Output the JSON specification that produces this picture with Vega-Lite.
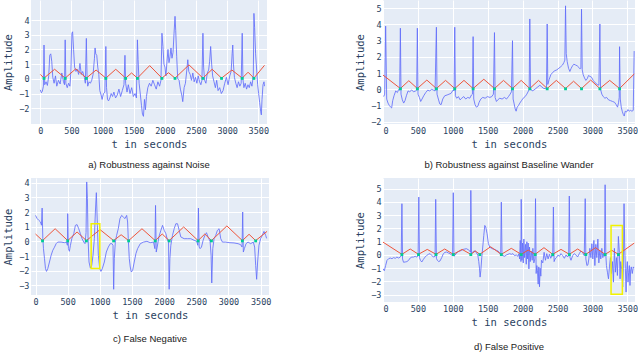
{
"$schema": "https://vega.github.io/schema/vega-lite/v6.json",
"background": "white",
"padding": {"left": 3, "top": 0, "right": 0, "bottom": 0},
"columns": 2,
"spacing": {"row": 8, "column": 84},
"config": {
  "view": {"fill": "#e5ecf6", "stroke": null},
  "axis": {"grid": true, "gridColor": "white", "gridWidth": 1, "domain": false, "ticks": false, "labelFont": "DejaVu Sans Mono", "labelFontSize": 8.5, "labelColor": "#2a3f5f", "titleFont": "DejaVu Sans Mono", "titleFontSize": 10.5, "titleFontWeight": "normal", "titleColor": "#2a3f5f"},
  "axisX": {"labelPadding": 2, "titlePadding": 5, "format": "d"},
  "axisY": {"labelPadding": 2, "titlePadding": 5, "format": "d"},
  "title": {"orient": "bottom", "frame": "group", "font": "Liberation Sans", "fontSize": 9.5, "fontWeight": "normal", "color": "#222222", "offset": 10}
},
"datasets": {
"a": [{"t":0,"v":-0.75},{"t":16,"v":-0.95},{"t":32,"v":-0.85},{"t":49,"v":-0.5},{"t":59,"v":2.3},{"t":70,"v":-0.4},{"t":92,"v":-0.2},{"t":113,"v":-0.45},{"t":135,"v":0.2},{"t":151,"v":1.6},{"t":167,"v":1.7},{"t":183,"v":1.2},{"t":200,"v":0.1},{"t":221,"v":-0.3},{"t":243,"v":0.2},{"t":264,"v":-0.5},{"t":291,"v":-0.1},{"t":318,"v":-0.35},{"t":345,"v":0.4},{"t":372,"v":-0.2},{"t":388,"v":-0.4},{"t":399,"v":2.65},{"t":410,"v":-0.3},{"t":432,"v":-0.6},{"t":453,"v":-0.3},{"t":475,"v":-0.5},{"t":491,"v":0.5},{"t":507,"v":3.1},{"t":518,"v":3.2},{"t":534,"v":2.0},{"t":550,"v":0.8},{"t":572,"v":0.5},{"t":593,"v":0.65},{"t":615,"v":0.3},{"t":636,"v":1.05},{"t":658,"v":0.3},{"t":680,"v":0.5},{"t":707,"v":0.1},{"t":723,"v":-0.3},{"t":739,"v":2.75},{"t":750,"v":0.2},{"t":761,"v":-0.5},{"t":782,"v":-0.2},{"t":804,"v":-0.3},{"t":825,"v":-0.1},{"t":847,"v":0.3},{"t":869,"v":1.4},{"t":879,"v":2.1},{"t":890,"v":1.7},{"t":906,"v":1.6},{"t":922,"v":0.8},{"t":939,"v":0.3},{"t":955,"v":-0.8},{"t":976,"v":-1.1},{"t":992,"v":-1.4},{"t":1014,"v":-1.0},{"t":1036,"v":-0.9},{"t":1052,"v":2.2},{"t":1063,"v":-0.6},{"t":1079,"v":-1.4},{"t":1095,"v":-1.5},{"t":1117,"v":-1.3},{"t":1138,"v":-1.0},{"t":1160,"v":-1.2},{"t":1181,"v":-0.9},{"t":1208,"v":-1.3},{"t":1235,"v":-1.1},{"t":1262,"v":-0.7},{"t":1289,"v":-1.2},{"t":1316,"v":-0.8},{"t":1343,"v":-0.4},{"t":1359,"v":1.6},{"t":1370,"v":-0.3},{"t":1392,"v":-0.9},{"t":1413,"v":-0.4},{"t":1440,"v":-1.0},{"t":1467,"v":-0.6},{"t":1494,"v":-1.2},{"t":1521,"v":-1.0},{"t":1543,"v":-1.3},{"t":1559,"v":2.65},{"t":1570,"v":1.3},{"t":1586,"v":-0.3},{"t":1607,"v":-1.1},{"t":1624,"v":-1.8},{"t":1640,"v":-2.4},{"t":1656,"v":-2.55},{"t":1672,"v":-1.4},{"t":1688,"v":-2.1},{"t":1704,"v":-1.2},{"t":1726,"v":-0.6},{"t":1753,"v":-0.3},{"t":1780,"v":-0.5},{"t":1807,"v":-0.1},{"t":1834,"v":-0.4},{"t":1861,"v":-0.7},{"t":1888,"v":-0.2},{"t":1915,"v":-0.5},{"t":1937,"v":-0.1},{"t":1953,"v":3.1},{"t":1969,"v":2.2},{"t":1985,"v":1.0},{"t":2001,"v":0.8},{"t":2017,"v":0.2},{"t":2034,"v":1.2},{"t":2050,"v":2.0},{"t":2066,"v":1.1},{"t":2082,"v":1.5},{"t":2098,"v":2.1},{"t":2114,"v":1.4},{"t":2131,"v":1.8},{"t":2147,"v":3.1},{"t":2163,"v":4.25},{"t":2174,"v":3.3},{"t":2190,"v":1.5},{"t":2206,"v":0.0},{"t":2228,"v":-0.1},{"t":2249,"v":-0.7},{"t":2271,"v":-1.1},{"t":2287,"v":-1.55},{"t":2309,"v":-0.6},{"t":2330,"v":-0.3},{"t":2352,"v":0.6},{"t":2368,"v":1.3},{"t":2384,"v":0.5},{"t":2406,"v":0.3},{"t":2427,"v":-0.1},{"t":2449,"v":0.4},{"t":2470,"v":-0.2},{"t":2492,"v":0.1},{"t":2514,"v":-0.3},{"t":2535,"v":0.2},{"t":2557,"v":-0.2},{"t":2578,"v":-0.4},{"t":2595,"v":-0.1},{"t":2611,"v":3.1},{"t":2622,"v":0.8},{"t":2638,"v":-0.1},{"t":2659,"v":-0.3},{"t":2681,"v":0.4},{"t":2703,"v":0.6},{"t":2719,"v":1.2},{"t":2735,"v":2.2},{"t":2751,"v":1.0},{"t":2767,"v":0.2},{"t":2789,"v":-0.2},{"t":2811,"v":-0.6},{"t":2832,"v":-0.1},{"t":2854,"v":-0.8},{"t":2880,"v":-0.6},{"t":2907,"v":-1.0},{"t":2934,"v":-0.8},{"t":2961,"v":-0.3},{"t":2988,"v":0.1},{"t":3015,"v":-0.4},{"t":3042,"v":0.2},{"t":3064,"v":0.5},{"t":3080,"v":1.7},{"t":3090,"v":2.3},{"t":3101,"v":1.0},{"t":3117,"v":0.1},{"t":3139,"v":-0.3},{"t":3160,"v":-0.6},{"t":3182,"v":-0.2},{"t":3204,"v":-0.5},{"t":3225,"v":-0.3},{"t":3242,"v":3.1},{"t":3253,"v":0.0},{"t":3269,"v":-0.6},{"t":3290,"v":-0.3},{"t":3312,"v":-0.7},{"t":3334,"v":-0.4},{"t":3355,"v":-0.6},{"t":3377,"v":-0.2},{"t":3398,"v":-0.5},{"t":3420,"v":0.2},{"t":3430,"v":4.45},{"t":3441,"v":3.5},{"t":3457,"v":1.7},{"t":3474,"v":0.6},{"t":3490,"v":-0.4},{"t":3506,"v":-1.0},{"t":3522,"v":-1.6},{"t":3538,"v":-2.2},{"t":3549,"v":-2.45},{"t":3560,"v":-1.4},{"t":3576,"v":-0.4},{"t":3592,"v":-0.2},{"t":3600,"v":-0.5}],
"at": [{"t":0,"v":0.3},{"t":59,"v":0.05},{"t":229,"v":0.65},{"t":399,"v":0.05},{"t":569,"v":0.68},{"t":739,"v":0.05},{"t":895,"v":0.6},{"t":1052,"v":0.05},{"t":1211,"v":0.65},{"t":1370,"v":0.05},{"t":1465,"v":0.4},{"t":1559,"v":0.05},{"t":1756,"v":0.9},{"t":1953,"v":0.05},{"t":2058,"v":0.42},{"t":2163,"v":0.05},{"t":2387,"v":0.95},{"t":2611,"v":0.05},{"t":2760,"v":0.65},{"t":2910,"v":0.05},{"t":3076,"v":0.6},{"t":3242,"v":0.05},{"t":3336,"v":0.45},{"t":3430,"v":0.05},{"t":3600,"v":0.92}],
"ag": [{"t":59,"v":0.03},{"t":399,"v":0.03},{"t":739,"v":0.03},{"t":1052,"v":0.03},{"t":1370,"v":0.03},{"t":1559,"v":0.03},{"t":1953,"v":0.03},{"t":2163,"v":0.03},{"t":2611,"v":0.03},{"t":2910,"v":0.03},{"t":3242,"v":0.03},{"t":3430,"v":0.03}],
"b": [{"t":10,"v":-0.45},{"t":24,"v":-0.3},{"t":38,"v":3.9},{"t":53,"v":-0.6},{"t":72,"v":-0.85},{"t":91,"v":-1.0},{"t":110,"v":-1.1},{"t":124,"v":-1.15},{"t":139,"v":-0.7},{"t":158,"v":-0.4},{"t":182,"v":-0.1},{"t":206,"v":-0.2},{"t":225,"v":0.0},{"t":239,"v":-0.05},{"t":249,"v":3.77},{"t":258,"v":-0.3},{"t":277,"v":-0.65},{"t":296,"v":-0.85},{"t":315,"v":-0.7},{"t":335,"v":-0.4},{"t":359,"v":-0.1},{"t":382,"v":-0.15},{"t":411,"v":-0.05},{"t":440,"v":-0.15},{"t":468,"v":-0.1},{"t":483,"v":-0.05},{"t":492,"v":3.77},{"t":502,"v":-0.3},{"t":521,"v":-0.5},{"t":540,"v":-0.75},{"t":559,"v":-0.6},{"t":583,"v":-0.4},{"t":612,"v":-0.2},{"t":641,"v":-0.05},{"t":669,"v":-0.1},{"t":698,"v":0.0},{"t":722,"v":-0.05},{"t":746,"v":-0.1},{"t":765,"v":3.83},{"t":774,"v":-0.3},{"t":793,"v":-0.6},{"t":813,"v":-0.9},{"t":832,"v":-0.95},{"t":856,"v":-0.6},{"t":884,"v":-0.4},{"t":918,"v":-0.35},{"t":946,"v":-0.3},{"t":975,"v":-0.25},{"t":1004,"v":-0.05},{"t":1018,"v":-0.1},{"t":1028,"v":3.83},{"t":1037,"v":-0.4},{"t":1056,"v":-0.55},{"t":1080,"v":-0.45},{"t":1104,"v":-0.65},{"t":1128,"v":-0.55},{"t":1157,"v":-0.45},{"t":1185,"v":-0.6},{"t":1214,"v":-0.5},{"t":1243,"v":-0.55},{"t":1267,"v":-0.35},{"t":1281,"v":-0.3},{"t":1291,"v":3.25},{"t":1300,"v":-0.6},{"t":1319,"v":-0.95},{"t":1338,"v":-1.1},{"t":1358,"v":-1.05},{"t":1377,"v":-0.8},{"t":1401,"v":-0.6},{"t":1429,"v":-0.5},{"t":1463,"v":-0.55},{"t":1496,"v":-0.45},{"t":1530,"v":-0.5},{"t":1558,"v":-0.45},{"t":1582,"v":-0.3},{"t":1597,"v":3.5},{"t":1606,"v":-0.5},{"t":1625,"v":-0.75},{"t":1644,"v":-0.65},{"t":1673,"v":-0.55},{"t":1706,"v":-0.6},{"t":1740,"v":-0.5},{"t":1769,"v":-0.6},{"t":1797,"v":-0.45},{"t":1821,"v":-0.3},{"t":1840,"v":-0.15},{"t":1855,"v":3.0},{"t":1864,"v":-0.6},{"t":1879,"v":-0.9},{"t":1893,"v":-1.2},{"t":1907,"v":-1.35},{"t":1922,"v":-1.1},{"t":1941,"v":-1.0},{"t":1960,"v":-0.85},{"t":1984,"v":-0.7},{"t":2008,"v":-0.55},{"t":2036,"v":-0.45},{"t":2060,"v":-0.3},{"t":2084,"v":-0.1},{"t":2094,"v":0.0},{"t":2103,"v":4.34},{"t":2113,"v":0.05},{"t":2137,"v":-0.1},{"t":2161,"v":-0.05},{"t":2189,"v":0.05},{"t":2218,"v":0.15},{"t":2247,"v":0.25},{"t":2275,"v":0.15},{"t":2304,"v":0.05},{"t":2328,"v":0.05},{"t":2342,"v":0.0},{"t":2352,"v":4.03},{"t":2361,"v":0.3},{"t":2380,"v":0.6},{"t":2404,"v":0.9},{"t":2433,"v":1.05},{"t":2462,"v":1.15},{"t":2490,"v":1.2},{"t":2519,"v":1.3},{"t":2548,"v":1.4},{"t":2572,"v":1.5},{"t":2591,"v":1.65},{"t":2605,"v":1.8},{"t":2615,"v":5.15},{"t":2625,"v":2.2},{"t":2639,"v":1.7},{"t":2658,"v":1.3},{"t":2677,"v":1.1},{"t":2696,"v":1.3},{"t":2715,"v":1.45},{"t":2734,"v":1.55},{"t":2758,"v":1.5},{"t":2782,"v":1.45},{"t":2806,"v":1.35},{"t":2825,"v":1.25},{"t":2835,"v":1.3},{"t":2844,"v":4.94},{"t":2854,"v":1.2},{"t":2868,"v":0.9},{"t":2887,"v":0.7},{"t":2906,"v":0.55},{"t":2925,"v":0.65},{"t":2944,"v":0.85},{"t":2964,"v":0.8},{"t":2987,"v":0.75},{"t":3011,"v":0.55},{"t":3040,"v":0.4},{"t":3069,"v":0.3},{"t":3093,"v":0.25},{"t":3107,"v":4.03},{"t":3116,"v":0.0},{"t":3135,"v":-0.3},{"t":3155,"v":-0.45},{"t":3179,"v":-0.55},{"t":3203,"v":-0.5},{"t":3231,"v":-0.65},{"t":3260,"v":-0.7},{"t":3289,"v":-0.75},{"t":3317,"v":-0.8},{"t":3341,"v":-0.95},{"t":3360,"v":-1.1},{"t":3375,"v":-0.8},{"t":3384,"v":-0.5},{"t":3389,"v":2.63},{"t":3399,"v":-0.6},{"t":3413,"v":-1.1},{"t":3427,"v":-1.35},{"t":3442,"v":-1.55},{"t":3456,"v":-1.65},{"t":3470,"v":-1.35},{"t":3489,"v":-1.4},{"t":3509,"v":-1.25},{"t":3528,"v":-1.35},{"t":3547,"v":-1.3},{"t":3566,"v":-1.35},{"t":3585,"v":-1.3},{"t":3598,"v":2.36}],
"bt": [{"t":0,"v":0.88},{"t":249,"v":0.05},{"t":370,"v":0.53},{"t":492,"v":0.05},{"t":628,"v":0.57},{"t":765,"v":0.05},{"t":896,"v":0.55},{"t":1028,"v":0.05},{"t":1160,"v":0.55},{"t":1291,"v":0.05},{"t":1444,"v":0.62},{"t":1597,"v":0.05},{"t":1726,"v":0.55},{"t":1855,"v":0.05},{"t":1979,"v":0.55},{"t":2103,"v":0.05},{"t":2228,"v":0.55},{"t":2352,"v":0.05},{"t":2483,"v":0.55},{"t":2615,"v":0.05},{"t":2730,"v":0.5},{"t":2844,"v":0.05},{"t":2975,"v":0.57},{"t":3107,"v":0.05},{"t":3248,"v":0.55},{"t":3389,"v":0.05},{"t":3600,"v":0.95}],
"bg": [{"t":249,"v":0.03},{"t":492,"v":0.03},{"t":765,"v":0.03},{"t":1028,"v":0.03},{"t":1291,"v":0.03},{"t":1597,"v":0.03},{"t":1855,"v":0.03},{"t":2103,"v":0.03},{"t":2352,"v":0.03},{"t":2615,"v":0.03},{"t":2844,"v":0.03},{"t":3107,"v":0.03},{"t":3389,"v":0.03}],
"c": [{"t":0,"v":1.77},{"t":26,"v":1.55},{"t":52,"v":1.43},{"t":78,"v":1.32},{"t":93,"v":1.1},{"t":103,"v":2.27},{"t":114,"v":0.18},{"t":124,"v":-0.5},{"t":140,"v":-1.18},{"t":155,"v":-1.86},{"t":171,"v":-2.05},{"t":191,"v":-1.86},{"t":217,"v":-1.41},{"t":243,"v":-0.95},{"t":269,"v":-0.61},{"t":295,"v":-0.4},{"t":321,"v":-0.16},{"t":346,"v":-0.05},{"t":398,"v":-0.05},{"t":450,"v":-0.09},{"t":481,"v":-0.05},{"t":496,"v":-0.27},{"t":501,"v":1.89},{"t":512,"v":-0.5},{"t":527,"v":-0.68},{"t":543,"v":-0.27},{"t":564,"v":0.18},{"t":595,"v":0.52},{"t":620,"v":1.09},{"t":646,"v":1.14},{"t":672,"v":0.86},{"t":698,"v":0.52},{"t":724,"v":0.18},{"t":750,"v":-0.05},{"t":770,"v":-0.16},{"t":786,"v":0.6},{"t":796,"v":4.05},{"t":807,"v":2.91},{"t":817,"v":0.18},{"t":832,"v":-1.41},{"t":853,"v":-1.82},{"t":874,"v":-1.64},{"t":894,"v":-0.95},{"t":915,"v":0.18},{"t":931,"v":2.0},{"t":946,"v":3.32},{"t":962,"v":1.09},{"t":977,"v":-0.95},{"t":998,"v":-1.86},{"t":1018,"v":-2.05},{"t":1039,"v":-1.86},{"t":1070,"v":-1.41},{"t":1101,"v":-0.73},{"t":1132,"v":-0.39},{"t":1163,"v":-0.16},{"t":1189,"v":-0.16},{"t":1205,"v":-0.27},{"t":1215,"v":-3.27},{"t":1225,"v":-1.18},{"t":1241,"v":-0.05},{"t":1261,"v":0.41},{"t":1287,"v":0.86},{"t":1313,"v":1.55},{"t":1339,"v":1.77},{"t":1365,"v":1.66},{"t":1391,"v":1.55},{"t":1417,"v":1.77},{"t":1432,"v":1.32},{"t":1442,"v":0.18},{"t":1458,"v":-1.18},{"t":1473,"v":-1.75},{"t":1489,"v":-2.09},{"t":1510,"v":-1.98},{"t":1535,"v":-1.41},{"t":1561,"v":-0.84},{"t":1587,"v":-0.5},{"t":1629,"v":-0.16},{"t":1680,"v":-0.05},{"t":1732,"v":0.0},{"t":1784,"v":-0.09},{"t":1835,"v":-0.05},{"t":1856,"v":-0.5},{"t":1866,"v":2.45},{"t":1877,"v":-0.73},{"t":1892,"v":-0.39},{"t":1918,"v":0.3},{"t":1949,"v":0.75},{"t":1975,"v":1.09},{"t":2001,"v":0.75},{"t":2027,"v":0.52},{"t":2052,"v":0.07},{"t":2068,"v":-0.05},{"t":2078,"v":-3.27},{"t":2089,"v":-1.18},{"t":2104,"v":-0.27},{"t":2130,"v":0.41},{"t":2156,"v":0.86},{"t":2182,"v":1.2},{"t":2208,"v":1.2},{"t":2234,"v":0.75},{"t":2259,"v":0.3},{"t":2311,"v":0.18},{"t":2363,"v":0.18},{"t":2414,"v":0.18},{"t":2466,"v":0.07},{"t":2507,"v":0.0},{"t":2523,"v":-0.27},{"t":2533,"v":2.27},{"t":2544,"v":-0.39},{"t":2559,"v":-0.5},{"t":2580,"v":-0.39},{"t":2606,"v":0.07},{"t":2632,"v":0.41},{"t":2658,"v":0.59},{"t":2683,"v":0.3},{"t":2714,"v":0.0},{"t":2730,"v":-0.95},{"t":2740,"v":-2.84},{"t":2756,"v":-0.5},{"t":2776,"v":0.18},{"t":2802,"v":0.41},{"t":2828,"v":0.75},{"t":2854,"v":0.86},{"t":2880,"v":0.18},{"t":2906,"v":-0.05},{"t":2957,"v":-0.05},{"t":3009,"v":-0.09},{"t":3086,"v":-0.11},{"t":3149,"v":-0.16},{"t":3190,"v":-0.23},{"t":3211,"v":-0.39},{"t":3221,"v":2.0},{"t":3231,"v":-0.73},{"t":3247,"v":-0.5},{"t":3273,"v":-0.16},{"t":3304,"v":-0.05},{"t":3345,"v":-0.16},{"t":3386,"v":-0.05},{"t":3407,"v":-0.39},{"t":3423,"v":-1.64},{"t":3438,"v":-2.59},{"t":3453,"v":-1.41},{"t":3474,"v":-0.27},{"t":3500,"v":0.18},{"t":3526,"v":0.41},{"t":3552,"v":0.68},{"t":3578,"v":0.41},{"t":3593,"v":0.2}],
"ct": [{"t":0,"v":0.5},{"t":109,"v":0.05},{"t":305,"v":0.86},{"t":501,"v":0.05},{"t":646,"v":0.64},{"t":791,"v":0.05},{"t":1003,"v":0.8},{"t":1215,"v":0.05},{"t":1331,"v":0.45},{"t":1448,"v":0.05},{"t":1655,"v":0.86},{"t":1861,"v":0.05},{"t":1970,"v":0.5},{"t":2078,"v":0.05},{"t":2303,"v":0.98},{"t":2528,"v":0.05},{"t":2632,"v":0.5},{"t":2735,"v":0.05},{"t":2975,"v":1.05},{"t":3216,"v":0.05},{"t":3320,"v":0.48},{"t":3423,"v":0.05},{"t":3600,"v":0.68}],
"cg": [{"t":109,"v":0.03},{"t":501,"v":0.03},{"t":791,"v":0.03},{"t":1215,"v":0.03},{"t":1448,"v":0.03},{"t":1861,"v":0.03},{"t":2078,"v":0.03},{"t":2528,"v":0.03},{"t":2735,"v":0.03},{"t":3216,"v":0.03},{"t":3423,"v":0.03}],
"cb": [{"t":865,"t2":1000,"v":-1.85,"v2":1.2}],
"d": [{"t":0,"v":-1.04},{"t":19,"v":-1.19},{"t":38,"v":-0.79},{"t":57,"v":-0.41},{"t":81,"v":-0.28},{"t":104,"v":-0.23},{"t":128,"v":-0.28},{"t":152,"v":-0.2},{"t":176,"v":-0.25},{"t":199,"v":-0.16},{"t":223,"v":-0.23},{"t":247,"v":-0.16},{"t":261,"v":-0.05},{"t":271,"v":3.87},{"t":280,"v":-0.3},{"t":294,"v":-0.55},{"t":318,"v":-0.53},{"t":342,"v":-0.5},{"t":366,"v":-0.41},{"t":389,"v":-0.23},{"t":413,"v":-0.16},{"t":437,"v":-0.16},{"t":461,"v":-0.1},{"t":484,"v":-0.16},{"t":503,"v":-0.05},{"t":513,"v":4.37},{"t":522,"v":-0.2},{"t":537,"v":-0.41},{"t":556,"v":-0.53},{"t":579,"v":-0.33},{"t":603,"v":-0.16},{"t":627,"v":-0.03},{"t":651,"v":0.05},{"t":674,"v":0.1},{"t":698,"v":-0.03},{"t":722,"v":-0.16},{"t":746,"v":-0.1},{"t":755,"v":4.2},{"t":765,"v":-0.25},{"t":779,"v":-0.41},{"t":798,"v":-0.5},{"t":817,"v":-0.45},{"t":841,"v":-0.2},{"t":864,"v":0.09},{"t":888,"v":0.2},{"t":912,"v":0.22},{"t":936,"v":0.15},{"t":959,"v":0.1},{"t":983,"v":0.0},{"t":997,"v":-0.05},{"t":1007,"v":4.7},{"t":1016,"v":-0.1},{"t":1030,"v":-0.03},{"t":1054,"v":0.15},{"t":1078,"v":0.25},{"t":1102,"v":0.3},{"t":1125,"v":0.35},{"t":1149,"v":0.42},{"t":1173,"v":0.45},{"t":1197,"v":0.47},{"t":1220,"v":0.4},{"t":1244,"v":0.3},{"t":1254,"v":0.2},{"t":1258,"v":4.87},{"t":1268,"v":0.1},{"t":1282,"v":0.2},{"t":1301,"v":0.3},{"t":1320,"v":0.3},{"t":1339,"v":0.15},{"t":1358,"v":0.0},{"t":1372,"v":-0.5},{"t":1382,"v":-1.0},{"t":1391,"v":-1.67},{"t":1401,"v":-1.2},{"t":1415,"v":-0.2},{"t":1429,"v":0.6},{"t":1444,"v":1.48},{"t":1458,"v":2.23},{"t":1472,"v":2.11},{"t":1491,"v":1.6},{"t":1510,"v":0.85},{"t":1529,"v":0.6},{"t":1553,"v":0.5},{"t":1577,"v":0.45},{"t":1600,"v":0.42},{"t":1624,"v":0.35},{"t":1648,"v":0.3},{"t":1672,"v":0.15},{"t":1686,"v":0.0},{"t":1695,"v":3.99},{"t":1705,"v":0.0},{"t":1719,"v":-0.05},{"t":1743,"v":-0.1},{"t":1767,"v":0.0},{"t":1790,"v":0.05},{"t":1814,"v":0.1},{"t":1838,"v":0.05},{"t":1862,"v":0.1},{"t":1885,"v":-0.05},{"t":1909,"v":0.0},{"t":1933,"v":-0.1},{"t":1947,"v":0.1},{"t":1957,"v":-0.3},{"t":1966,"v":1.1},{"t":1976,"v":-0.5},{"t":1980,"v":4.2},{"t":1990,"v":-0.4},{"t":1999,"v":0.9},{"t":2009,"v":-0.6},{"t":2018,"v":1.2},{"t":2028,"v":-0.2},{"t":2042,"v":0.8},{"t":2052,"v":-0.7},{"t":2061,"v":1.0},{"t":2071,"v":-0.3},{"t":2080,"v":0.9},{"t":2090,"v":-1.05},{"t":2099,"v":0.6},{"t":2109,"v":-0.5},{"t":2123,"v":0.3},{"t":2137,"v":-0.4},{"t":2147,"v":0.5},{"t":2161,"v":-0.6},{"t":2175,"v":-0.3},{"t":2185,"v":4.25},{"t":2194,"v":-1.4},{"t":2204,"v":-0.8},{"t":2213,"v":-1.2},{"t":2223,"v":-2.2},{"t":2232,"v":-0.9},{"t":2242,"v":-2.4},{"t":2251,"v":-1.0},{"t":2261,"v":-1.6},{"t":2270,"v":-0.4},{"t":2289,"v":-0.6},{"t":2308,"v":0.2},{"t":2327,"v":-0.4},{"t":2346,"v":0.1},{"t":2365,"v":-0.3},{"t":2384,"v":0.05},{"t":2403,"v":-0.25},{"t":2422,"v":0.0},{"t":2431,"v":-0.1},{"t":2441,"v":3.62},{"t":2451,"v":-0.5},{"t":2465,"v":-0.3},{"t":2484,"v":-0.2},{"t":2508,"v":0.0},{"t":2527,"v":-0.1},{"t":2550,"v":0.1},{"t":2574,"v":-0.05},{"t":2598,"v":-0.25},{"t":2622,"v":0.0},{"t":2645,"v":-0.15},{"t":2660,"v":0.0},{"t":2669,"v":4.45},{"t":2679,"v":-0.2},{"t":2693,"v":-0.4},{"t":2717,"v":-0.05},{"t":2740,"v":0.1},{"t":2764,"v":0.0},{"t":2788,"v":-0.15},{"t":2812,"v":0.1},{"t":2835,"v":0.3},{"t":2859,"v":0.2},{"t":2883,"v":-0.05},{"t":2897,"v":4.25},{"t":2906,"v":-0.3},{"t":2921,"v":-0.8},{"t":2935,"v":-0.75},{"t":2949,"v":-0.3},{"t":2963,"v":0.5},{"t":2978,"v":-0.2},{"t":2992,"v":0.85},{"t":3006,"v":-0.3},{"t":3021,"v":1.1},{"t":3035,"v":-0.8},{"t":3049,"v":0.8},{"t":3063,"v":-0.2},{"t":3078,"v":1.2},{"t":3092,"v":-0.6},{"t":3106,"v":0.35},{"t":3120,"v":-0.3},{"t":3135,"v":0.5},{"t":3149,"v":-0.2},{"t":3163,"v":0.1},{"t":3173,"v":-0.1},{"t":3182,"v":5.3},{"t":3192,"v":0.0},{"t":3201,"v":-0.8},{"t":3215,"v":-1.3},{"t":3230,"v":-1.8},{"t":3244,"v":-0.9},{"t":3258,"v":-0.2},{"t":3273,"v":-1.4},{"t":3287,"v":-0.5},{"t":3301,"v":-2.05},{"t":3315,"v":0.5},{"t":3329,"v":-1.3},{"t":3344,"v":-0.2},{"t":3358,"v":-1.55},{"t":3372,"v":1.4},{"t":3386,"v":0.2},{"t":3396,"v":-1.8},{"t":3405,"v":-0.5},{"t":3420,"v":-1.1},{"t":3434,"v":-2.42},{"t":3443,"v":-1.0},{"t":3453,"v":3.87},{"t":3463,"v":0.5},{"t":3472,"v":-1.0},{"t":3482,"v":-2.8},{"t":3491,"v":-1.2},{"t":3500,"v":-0.5},{"t":3510,"v":-2.05},{"t":3519,"v":-1.3},{"t":3529,"v":-0.8},{"t":3538,"v":-2.3},{"t":3548,"v":-1.1},{"t":3557,"v":-0.9},{"t":3571,"v":-1.4},{"t":3586,"v":-0.9},{"t":3595,"v":-1.0}],
"dt": [{"t":0,"v":0.97},{"t":271,"v":0.05},{"t":390,"v":0.45},{"t":508,"v":0.05},{"t":634,"v":0.42},{"t":760,"v":0.05},{"t":884,"v":0.45},{"t":1007,"v":0.05},{"t":1133,"v":0.42},{"t":1258,"v":0.05},{"t":1323,"v":0.3},{"t":1387,"v":0.05},{"t":1541,"v":0.62},{"t":1695,"v":0.05},{"t":1838,"v":0.5},{"t":1980,"v":0.05},{"t":2080,"v":0.37},{"t":2180,"v":0.05},{"t":2306,"v":0.55},{"t":2431,"v":0.05},{"t":2550,"v":0.42},{"t":2669,"v":0.05},{"t":2788,"v":0.45},{"t":2906,"v":0.05},{"t":3044,"v":0.55},{"t":3182,"v":0.05},{"t":3277,"v":0.35},{"t":3372,"v":0.05},{"t":3600,"v":0.9}],
"dg": [{"t":271,"v":0.03},{"t":508,"v":0.03},{"t":760,"v":0.03},{"t":1007,"v":0.03},{"t":1258,"v":0.03},{"t":1387,"v":0.03},{"t":1695,"v":0.03},{"t":1980,"v":0.03},{"t":2180,"v":0.03},{"t":2431,"v":0.03},{"t":2669,"v":0.03},{"t":2906,"v":0.03},{"t":3182,"v":0.03},{"t":3372,"v":0.03}],
"db": [{"t":3267,"t2":3429,"v":-2.97,"v2":2.23}]
},
"concat": [
{
 "width": 236, "height": 124,
 "title": {"text": "a) Robustness against Noise"},
 "encoding": {
  "x": {"field": "t", "type": "quantitative", "title": "t in seconds", "scale": {"domain": [-150, 3640], "nice": false, "zero": false}, "axis": {"values": [0,500,1000,1500,2000,2500,3000,3500]}},
  "y": {"field": "v", "type": "quantitative", "title": "Amplitude", "scale": {"domain": [-3.07, 5.36], "nice": false, "zero": false}, "axis": {"values": [-2,-1,0,1,2,3,4]}}
 },
 "layer": [
  {"data": {"name": "a"}, "mark": {"type": "line", "color": "#636efa", "strokeWidth": 1, "opacity": 0.85, "clip": true}},
  {"data": {"name": "at"}, "mark": {"type": "line", "color": "#ef553b", "strokeWidth": 1, "clip": true}},
  {"data": {"name": "ag"}, "mark": {"type": "square", "color": "#00cc96", "size": 8, "opacity": 1, "filled": true}}
 ]
},
{
 "width": 252, "height": 124,
 "title": {"text": "b) Robustness against Baseline Wander"},
 "encoding": {
  "x": {"field": "t", "type": "quantitative", "title": "t in seconds", "scale": {"domain": [0, 3610], "nice": false, "zero": false}, "axis": {"values": [0,500,1000,1500,2000,2500,3000,3500]}},
  "y": {"field": "v", "type": "quantitative", "title": "Amplitude", "scale": {"domain": [-2.14, 5.51], "nice": false, "zero": false}, "axis": {"values": [-2,-1,0,1,2,3,4,5]}}
 },
 "layer": [
  {"data": {"name": "b"}, "mark": {"type": "line", "color": "#636efa", "strokeWidth": 1, "opacity": 0.85, "clip": true}},
  {"data": {"name": "bt"}, "mark": {"type": "line", "color": "#ef553b", "strokeWidth": 1, "clip": true}},
  {"data": {"name": "bg"}, "mark": {"type": "square", "color": "#00cc96", "size": 8, "opacity": 1, "filled": true}}
 ]
},
{
 "width": 238, "height": 117,
 "title": {"text": "c) False Negative", "offset": 13},
 "encoding": {
  "x": {"field": "t", "type": "quantitative", "title": "t in seconds", "scale": {"domain": [-70, 3630], "nice": false, "zero": false}, "axis": {"values": [0,500,1000,1500,2000,2500,3000,3500]}},
  "y": {"field": "v", "type": "quantitative", "title": "Amplitude", "scale": {"domain": [-3.66, 4.32], "nice": false, "zero": false}, "axis": {"values": [-3,-2,-1,0,1,2,3,4]}}
 },
 "layer": [
  {"data": {"name": "c"}, "mark": {"type": "line", "color": "#636efa", "strokeWidth": 1, "opacity": 0.85, "clip": true}},
  {"data": {"name": "ct"}, "mark": {"type": "line", "color": "#ef553b", "strokeWidth": 1, "clip": true}},
  {"data": {"name": "cg"}, "mark": {"type": "square", "color": "#00cc96", "size": 8, "opacity": 1, "filled": true}},
  {"data": {"name": "cb"}, "mark": {"type": "rect", "fillOpacity": 0, "stroke": "#f2f200", "strokeWidth": 1.5}, "encoding": {"x2": {"field": "t2"}, "y2": {"field": "v2"}}}
 ]
},
{
 "width": 252, "height": 124,
 "title": {"text": "d) False Positive", "offset": 14},
 "encoding": {
  "x": {"field": "t", "type": "quantitative", "title": "t in seconds", "scale": {"domain": [0, 3610], "nice": false, "zero": false}, "axis": {"values": [0,500,1000,1500,2000,2500,3000,3500]}},
  "y": {"field": "v", "type": "quantitative", "title": "Amplitude", "scale": {"domain": [-3.55, 5.81], "nice": false, "zero": false}, "axis": {"values": [-3,-2,-1,0,1,2,3,4,5]}}
 },
 "layer": [
  {"data": {"name": "d"}, "mark": {"type": "line", "color": "#636efa", "strokeWidth": 1, "opacity": 0.85, "clip": true}},
  {"data": {"name": "dt"}, "mark": {"type": "line", "color": "#ef553b", "strokeWidth": 1, "clip": true}},
  {"data": {"name": "dg"}, "mark": {"type": "square", "color": "#00cc96", "size": 8, "opacity": 1, "filled": true}},
  {"data": {"name": "db"}, "mark": {"type": "rect", "fillOpacity": 0, "stroke": "#f2f200", "strokeWidth": 1.5}, "encoding": {"x2": {"field": "t2"}, "y2": {"field": "v2"}}}
 ]
}
]
}
